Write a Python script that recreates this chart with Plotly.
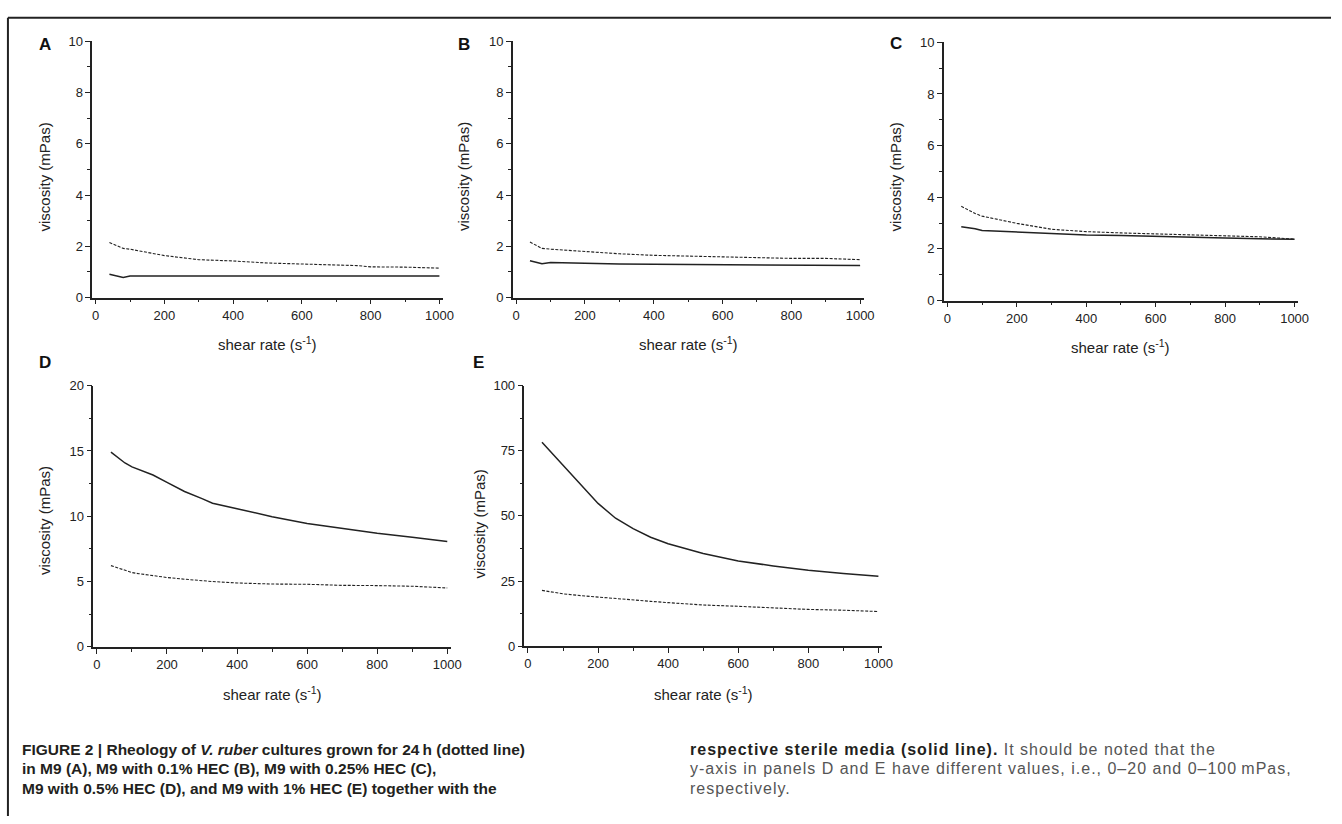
import plotly.graph_objects as go

W, H = 1342, 824

# ---------------- data ----------------
A_x = [40, 80, 100, 200, 300, 400, 500, 600, 700, 760, 800, 900, 1000]
A_culture = [2.15, 1.92, 1.89, 1.64, 1.48, 1.43, 1.35, 1.32, 1.28, 1.25, 1.20, 1.19, 1.15]
A_sterile = [0.91, 0.79, 0.84, 0.84, 0.84, 0.84, 0.84, 0.84, 0.84, 0.84, 0.84, 0.84, 0.84]

B_x = [40, 75, 100, 200, 300, 400, 500, 600, 700, 800, 900, 1000]
B_culture = [2.17, 1.92, 1.89, 1.79, 1.71, 1.65, 1.62, 1.61, 1.56, 1.53, 1.53, 1.48]
B_sterile = [1.44, 1.32, 1.37, 1.33, 1.31, 1.30, 1.29, 1.28, 1.28, 1.28, 1.26, 1.25]

C_x = [40, 80, 100, 200, 300, 400, 500, 600, 700, 800, 900, 1000]
C_culture = [3.65, 3.37, 3.27, 2.99, 2.76, 2.67, 2.62, 2.58, 2.54, 2.49, 2.47, 2.38]
C_sterile = [2.86, 2.78, 2.71, 2.65, 2.59, 2.54, 2.52, 2.48, 2.44, 2.42, 2.39, 2.37]

D_x = [40, 80, 100, 120, 160, 200, 250, 300, 330, 400, 500, 600, 700, 800, 900, 1000]
D_sterile = [14.91, 14.08, 13.78, 13.56, 13.16, 12.6, 11.9, 11.35, 11.0, 10.57, 9.97, 9.45, 9.05, 8.7, 8.4, 8.07]
D_culture = [6.22, 5.84, 5.69, 5.6, 5.45, 5.31, 5.18, 5.06, 5.0, 4.89, 4.81, 4.79, 4.71, 4.69, 4.64, 4.51]

E_x = [40, 100, 150, 200, 250, 300, 350, 400, 500, 600, 700, 800, 900, 1000]
E_sterile = [78.3, 69.5, 61.9, 54.8, 49.1, 45.1, 41.8, 39.3, 35.6, 32.7, 30.8, 29.1, 27.9, 26.8]
E_culture = [21.4, 20.1, 19.4, 18.8, 18.2, 17.7, 17.2, 16.7, 15.8, 15.3, 14.7, 14.1, 13.8, 13.3]

panel_labels = ["A", "B", "C", "D", "E"]
y_ranges = [[0, 10], [0, 10], [0, 10], [0, 20], [0, 100]]
y_dticks = [2, 2, 2, 5, 25]
x_title = "shear rate (s<sup>-1</sup>)"
y_title = "viscosity (mPas)"

caption_left = [
    "<b>FIGURE 2 | Rheology of <i>V. ruber</i> cultures grown for 24\u2009h (dotted line)</b>",
    "<b>in M9 (A), M9 with 0.1% HEC (B), M9 with 0.25% HEC (C),</b>",
    "<b>M9 with 0.5% HEC (D), and M9 with 1% HEC (E) together with the</b>",
]
caption_right_bold = ["respective sterile media (solid line).", "", ""]
caption_right_text = [
    " It should be noted that the",
    "y-axis in panels D and E have different values, i.e., 0\u201320 and 0\u2013100\u2009mPas,",
    "respectively.",
]

# ---------------- layout geometry (pixels) ----------------
boxes = [
    (93.0, 446.5, 35.0, 296.0),
    (517.0, 870.7, 35.0, 296.0),
    (951.7, 1308.8, 36.0, 299.0),
    (94.2, 454.5, 385.7, 651.7),
    (528.8, 889.2, 385.7, 651.0),
]
label_pos = [(45, 38), (468, 38), (903, 37), (45, 362), (482, 362)]
ytitle_pos = [(45, 173), (468, 173), (903, 173), (45, 523), (483, 527)]
xtitle_y = [343, 343, 346, 699, 699]

FONT = "Liberation Sans, Arial, Helvetica, sans-serif"
INK = "#222222"


def px(x):
    return x / W


def py(y):
    return 1 - y / H


series = [
    (A_x, A_culture, A_sterile),
    (B_x, B_culture, B_sterile),
    (C_x, C_culture, C_sterile),
    (D_x, D_culture, D_sterile),
    (E_x, E_culture, E_sterile),
]

fig = go.Figure()
annotations = []
layout_axes = {}

for i, (xs, cult, ster) in enumerate(series):
    n = "" if i == 0 else str(i + 1)
    xa, ya = "x" + n, "y" + n
    fig.add_trace(go.Scatter(x=xs, y=cult, xaxis=xa, yaxis=ya, mode="lines",
                             line=dict(color=INK, width=1.1, dash="3px,1.5px"),
                             showlegend=False, hoverinfo="skip"))
    fig.add_trace(go.Scatter(x=xs, y=ster, xaxis=xa, yaxis=ya, mode="lines",
                             line=dict(color=INK, width=1.5),
                             showlegend=False, hoverinfo="skip"))
    x0, x1, y0, y1 = boxes[i]
    common = dict(showgrid=False, zeroline=False, showline=True, linecolor=INK,
                  linewidth=1.5, ticks="outside", ticklen=5, tickwidth=1.3,
                  tickcolor=INK, tickfont=dict(family=FONT, size=13, color=INK))
    layout_axes["xaxis" + n] = dict(
        domain=[px(x0), px(x1)], anchor=ya, range=[-10, 1010],
        tick0=0, dtick=200,
        minor=dict(ticks="outside", ticklen=3, dtick=100, tick0=0, tickcolor=INK, tickwidth=1.2),
        **common)
    layout_axes["yaxis" + n] = dict(
        domain=[py(y1), py(y0)], anchor=xa, range=y_ranges[i],
        tick0=0, dtick=y_dticks[i],
        minor=dict(ticks="outside", ticklen=3, dtick=y_dticks[i] / 2, tick0=0, tickcolor=INK, tickwidth=1.2),
        **common)

    lx, ly = label_pos[i]
    annotations.append(dict(text="<b>" + panel_labels[i] + "</b>", x=px(lx), y=py(ly),
                            xref="paper", yref="paper", showarrow=False,
                            xanchor="center", yanchor="middle",
                            font=dict(family=FONT, size=17, color="#111111")))
    tx, ty = ytitle_pos[i]
    annotations.append(dict(text=y_title, x=px(tx), y=py(ty), xref="paper", yref="paper",
                            showarrow=False, textangle=-90, xanchor="center", yanchor="middle",
                            font=dict(family=FONT, size=15, color=INK)))
    annotations.append(dict(text=x_title, x=(px(x0) + px(x1)) / 2, y=py(xtitle_y[i]),
                            xref="paper", yref="paper", showarrow=False,
                            xanchor="center", yanchor="middle",
                            font=dict(family=FONT, size=15, color=INK)))

cap_y = [756, 776, 796]
for j, t in enumerate(caption_left):
    annotations.append(dict(text=t, x=px(20), y=py(cap_y[j]), xref="paper", yref="paper",
                            showarrow=False, xanchor="left", yanchor="middle", align="left",
                            font=dict(family=FONT, size=15.5, color="#231f20")))
for j in range(3):
    parts = ""
    if caption_right_bold[j]:
        parts += "<b>" + caption_right_bold[j] + "</b>"
    parts += "<span style='color:#555555'>" + caption_right_text[j] + "</span>"
    t = "<span style='letter-spacing:1px'>" + parts + "</span>"
    annotations.append(dict(text=t, x=px(694), y=py(cap_y[j]), xref="paper", yref="paper",
                            showarrow=False, xanchor="left", yanchor="middle", align="left",
                            font=dict(family=FONT, size=16, color="#231f20")))

shapes = [
    dict(type="line", xref="paper", yref="paper", x0=px(8), x1=1.0, y0=py(11), y1=py(11),
         line=dict(color=INK, width=2)),
    dict(type="line", xref="paper", yref="paper", x0=px(8), x1=px(8), y0=py(11), y1=0,
         line=dict(color=INK, width=2)),
]

fig.update_layout(
    width=W, height=H, margin=dict(l=0, r=0, t=0, b=0),
    paper_bgcolor="white", plot_bgcolor="white",
    annotations=annotations, shapes=shapes, showlegend=False,
    font=dict(family=FONT, color=INK),
    **layout_axes,
)

fig.write_html("out.html")
